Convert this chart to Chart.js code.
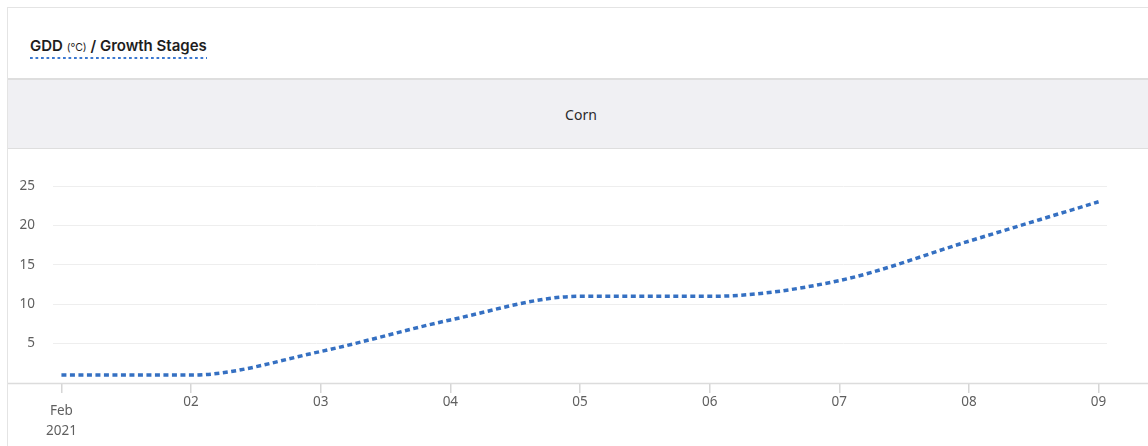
<!DOCTYPE html>
<html>
<head>
<meta charset="utf-8">
<title>GDD / Growth Stages</title>
<script src="https://cdn.jsdelivr.net/npm/chart.js@4/dist/chart.umd.min.js"></script>
<style>
  html, body { margin: 0; padding: 0; background: #fff; overflow: hidden; width: 1148px; height: 446px; }
  body { font-family: "Noto Sans", sans-serif; position: relative; }
  .card {
    position: absolute; left: 7px; top: 7px; width: 1148px; height: 439px;
    border: 1px solid #e4e4e4; border-bottom: none; box-sizing: border-box; background: #fff; overflow: hidden;
  }
  .head { height: 70px; position: relative; }
  .title {
    position: absolute; left: 22px; top: 28px; font-family: Inter, sans-serif; font-size: 15px; font-weight: 600;
    color: #1e1e1e; padding-bottom: 4px;
    background: linear-gradient(to right, #3b78d0 45%, transparent 0) left bottom / 5.5px 2px repeat-x;
  }
  .title small { font-size: 10.5px; font-weight: 400; }
  .band {
    height: 68px; background: #f0f0f3; border-top: 2px solid #dedede; border-bottom: 1px solid #dedede;
    display: flex; align-items: center; justify-content: center; font-size: 14px; color: #2a2a2a;
  }
  .chart { position: relative; width: 1140px; height: 298px; }
</style>
</head>
<body>
<div class="card">
  <div class="head"><div class="title">GDD <small>(°C)</small> / Growth Stages</div></div>
  <div class="band">Corn</div>
  <div class="chart"><canvas id="gdd"></canvas></div>
</div>
<script>
  "use strict";

  var days = ["Feb|2021", "02", "03", "04", "05", "06", "07", "08", "09"];
  var gddCorn = [1, 1, 4, 8, 11, 11, 13, 18, 23];
  var yTicks = [5, 10, 15, 20, 25];

  var points = gddCorn.map(function (v, i) { return { x: i, y: v }; });

  // full-width baseline at y = 0, like the original widget
  var baseline = {
    id: "baseline",
    afterDraw: function (chart) {
      var ctx = chart.ctx;
      var y = Math.round(chart.scales.y.getPixelForValue(0)) + 0.5;
      ctx.save();
      ctx.strokeStyle = "#dcdcdc";
      ctx.lineWidth = 1.5;
      ctx.beginPath();
      ctx.moveTo(0, y);
      ctx.lineTo(chart.width, y);
      ctx.stroke();
      ctx.restore();
    }
  };

  new Chart(document.getElementById("gdd"), {
    type: "line",
    data: {
      datasets: [{
        label: "Corn",
        data: points,
        borderColor: "#3570c2",
        borderWidth: 3.5,
        borderDash: [5, 3.5],
        pointRadius: 0,
        cubicInterpolationMode: "monotone",
        fill: false
      }]
    },
    options: {
      responsive: true,
      maintainAspectRatio: false,
      animation: false,
      layout: { padding: { top: 37, right: 41, left: 0, bottom: 0 } },
      plugins: { legend: { display: false }, tooltip: { enabled: false } },
      scales: {
        x: {
          type: "linear",
          min: -0.065,
          max: days.length - 1 + 0.065,
          afterBuildTicks: function (scale) {
            scale.ticks = days.map(function (d, i) { return { value: i }; });
          },
          afterFit: function (scale) { scale.height = 64; },
          border: { display: false },
          grid: { drawOnChartArea: false, drawTicks: true, tickLength: 10, color: "#d6d6d6", lineWidth: 1.5 },
          ticks: {
            autoSkip: false,
            maxRotation: 0,
            padding: 8,
            color: "#5f5f5f",
            font: function (c) {
              var first = c.tick && c.tick.value === 0;
              return { family: "Noto Sans", size: 13.5, lineHeight: first ? "20px" : "2px" };
            },
            callback: function (v) {
              var d = days[v];
              return d.indexOf("|") > -1 ? d.split("|") : d;
            }
          }
        },
        y: {
          min: 0,
          max: 25,
          afterBuildTicks: function (scale) {
            scale.ticks = [0].concat(yTicks).map(function (v) { return { value: v }; });
          },
          afterFit: function (scale) { scale.width = 45; },
          border: { display: false },
          grid: {
            drawTicks: false,
            color: function (c) { return c.tick && c.tick.value === 0 ? "rgba(0,0,0,0)" : "#eeeeee"; }
          },
          ticks: {
            padding: 18,
            color: "#5f5f5f",
            font: { family: "Noto Sans", size: 13.5 },
            callback: function (v) { return v === 0 ? "" : v; }
          }
        }
      }
    },
    plugins: [baseline]
  });
</script>
</body>
</html>
